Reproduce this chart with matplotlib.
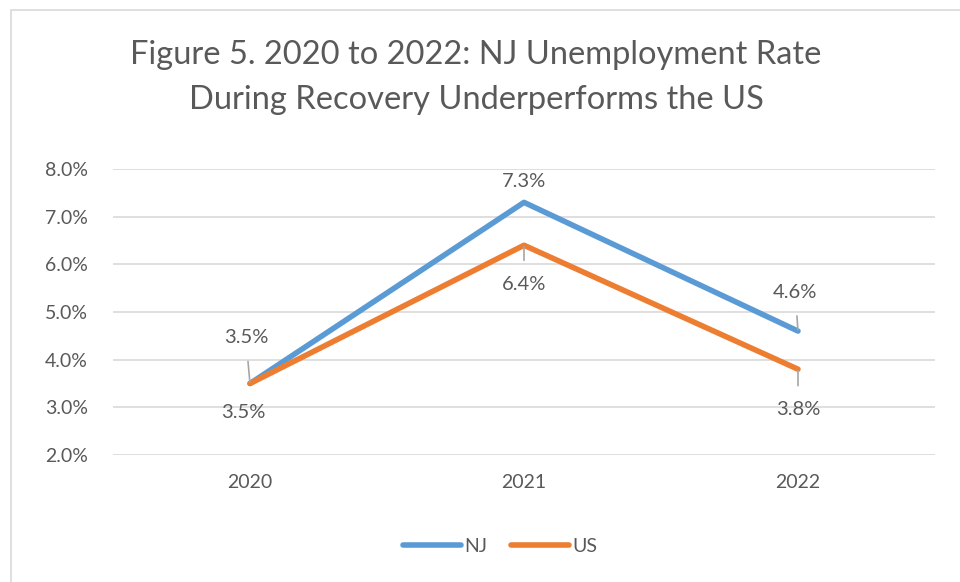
import matplotlib
matplotlib.use("Agg")
import matplotlib.pyplot as plt
from matplotlib.patches import Rectangle

plt.rcParams['font.family'] = ['Lato', 'DejaVu Sans']

years = ["2020", "2021", "2022"]
nj = [3.5, 7.3, 4.6]
us = [3.5, 6.4, 3.8]
yticks = [2.0, 3.0, 4.0, 5.0, 6.0, 7.0, 8.0]

blue = '#5B9BD5'
orange = '#ED7D31'
txt = '#595959'
grid = '#D9D9D9'

fig = plt.figure(figsize=(9.6, 5.82), dpi=100)
W, H = 960, 582

# chart border (only top/left visible in the crop)
fig.patches.append(Rectangle((10.5 / W, -0.1), 1.2, 1 - 9.5 / H + 0.1, transform=fig.transFigure,
                             fill=False, edgecolor='#D9D9D9', linewidth=1.2))

ax = fig.add_axes([113 / W, 1 - 455 / H, (935 - 113) / W, (455 - 169) / H])
x = [0, 1, 2]
ax.plot(x, nj, color=blue, linewidth=4, solid_capstyle='round', label='NJ', zorder=3)
ax.plot(x, us, color=orange, linewidth=4, solid_capstyle='round', label='US', zorder=3)

ax.set_xlim(-0.5, 2.5)
ax.set_ylim(2.0, 8.0)
ax.set_yticks(yticks)
ax.set_yticklabels([f"{v:.1f}%" for v in yticks])
ax.set_xticks(x)
ax.set_xticklabels(years)
ax.grid(axis='y', color=grid, linewidth=1.2)
ax.set_axisbelow(True)
for s in ax.spines.values():
    s.set_visible(False)
ax.tick_params(length=0, labelsize=14, labelcolor=txt)
ax.tick_params(axis='y', pad=18)
ax.tick_params(axis='x', pad=14)

# data labels (offsets in points), with leader lines where Excel drew them
nj_off = [(-3, 33), (0, 15), (-2, 28)]
us_off = [(-5, -21), (0, -28), (0, -29)]
nj_lead = [True, False, True]
us_lead = [False, True, True]
for i in range(3):
    for vals, offs, leads in ((nj, nj_off, nj_lead), (us, us_off, us_lead)):
        dx, dy = offs[i]
        ap = dict(arrowstyle='-', color='#A6A6A6', lw=1.2, shrinkA=9, shrinkB=1) if leads[i] else None
        ax.annotate(f"{vals[i]:.1f}%", (x[i], vals[i]), xytext=(dx, dy), textcoords='offset points',
                    ha='center', va='center', fontsize=14.5, color=txt, arrowprops=ap, zorder=4)

fig.text(476 / W, 1 - 55 / H, "Figure 5. 2020 to 2022: NJ Unemployment Rate", ha='center', va='center',
         fontsize=23.5, color=txt)
fig.text(476 / W, 1 - 100 / H, "During Recovery Underperforms the US", ha='center', va='center',
         fontsize=23.5, color=txt)

fig.legend(loc='center', bbox_to_anchor=(500 / W, 1 - 546 / H), ncol=2, frameon=False,
           fontsize=14, labelcolor=txt, handlelength=3.0, handletextpad=0.15, columnspacing=1.2)

fig.savefig("out.png", dpi=100, facecolor='white')
